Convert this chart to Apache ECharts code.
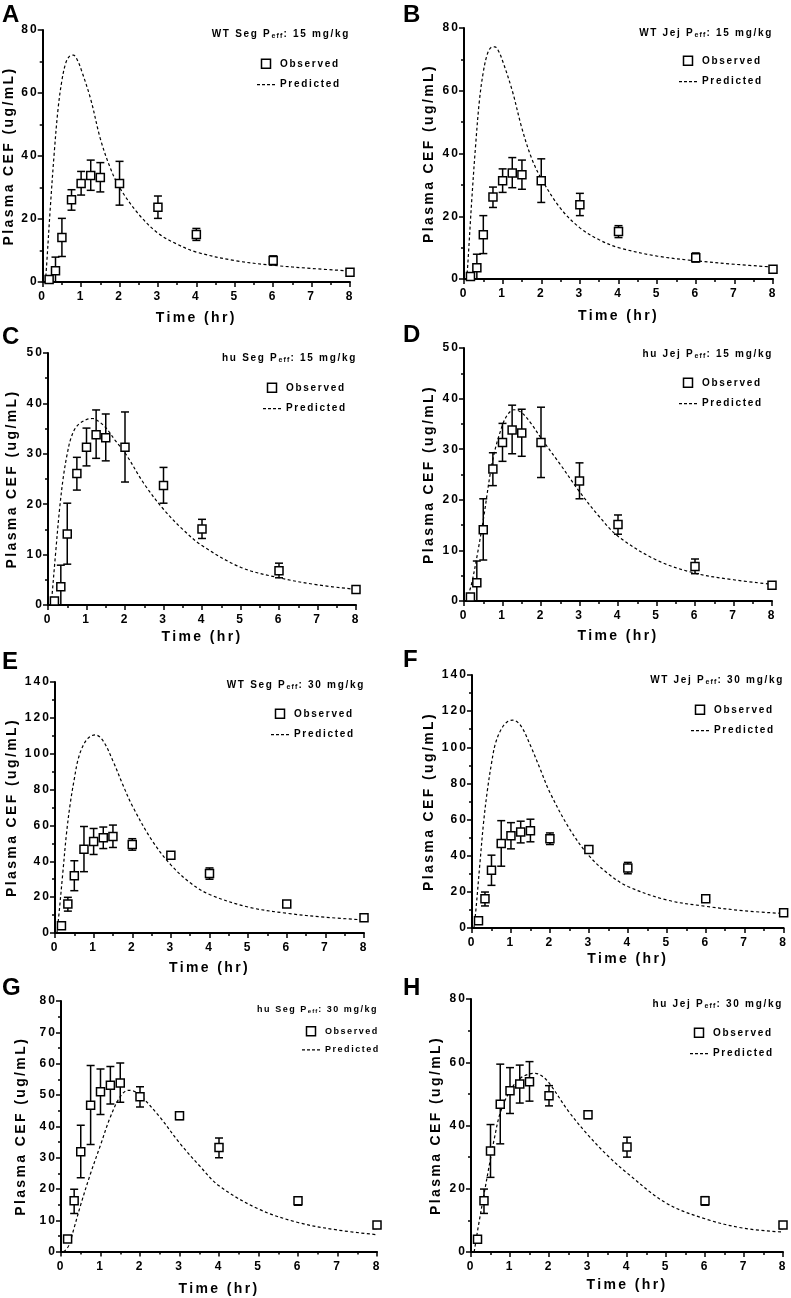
<!DOCTYPE html>
<html><head><meta charset="utf-8">
<script src="https://cdn.jsdelivr.net/npm/echarts@6/dist/echarts.min.js"></script>
<style>html,body{margin:0;padding:0;background:#fff}#c{width:791px;height:1298px}</style>
</head><body><div id="c"></div>
<script>
// ---------------- DATA ----------------
const timeObs   = [0.167, 0.333, 0.5, 0.75, 1, 1.25, 1.5, 2, 3, 4, 6, 8];
const obs15Mean = [0.8, 3.6, 14.1, 26.1, 31.3, 33.8, 33.2, 31.3, 23.7, 15.1, 6.8, 3.1];
const obs15Low  = [0.5, -0.7, 8.1, 22.8, 27.6, 29.1, 28.6, 24.4, 20.2, 13.2, 5.4, 2.8];
const obs15High = [1.1, 7.9, 20.2, 29.3, 35.1, 38.7, 37.9, 38.3, 27.3, 17.0, 8.3, 3.4];
const obs30Mean = [4.0, 16.2, 31.9, 46.7, 51.0, 53.1, 53.8, 49.4, 43.4, 33.2, 16.2, 8.5];
const obs30Low  = [3.6, 12.2, 23.6, 34.2, 43.8, 47.1, 47.7, 46.2, 42.2, 30.0, 14.8, 7.4];
const obs30High = [4.4, 19.9, 40.3, 59.4, 58.3, 59.1, 60.2, 52.6, 44.5, 36.3, 17.5, 9.5];

const predWTSeg15 = [[0.07,0],[0.1,5],[0.2,24],[0.3,41],[0.4,55],[0.5,64],[0.6,69.5],[0.7,71.7],[0.8,72],[0.9,70.5],[1,67.5],[1.25,58],[1.5,45.5],[1.75,36.5],[2,30],[2.5,21.5],[3,15.5],[3.5,12],[4,9.5],[5,6.8],[6,5.3],[7,4.3],[8,3.5]];
const predWTJej15 = [[0.07,0],[0.1,5],[0.2,25],[0.3,42.5],[0.4,57],[0.5,66],[0.6,71.5],[0.7,73.8],[0.8,74],[0.9,72.5],[1,69.5],[1.25,60],[1.5,48],[1.75,38.5],[2,32],[2.5,22.5],[3,16.3],[3.5,12.5],[4,10],[5,7.3],[6,5.8],[7,4.7],[8,3.8]];
const predHuSeg15 = [[0.08,0],[0.1,1.5],[0.2,10.5],[0.3,19],[0.4,25.5],[0.5,30],[0.6,33.2],[0.75,35.5],[1,36.8],[1.15,37],[1.25,36.8],[1.5,35.2],[1.75,32.6],[2,30.2],[2.5,24],[3,19],[3.5,15],[4,11.8],[5,7.5],[6,5.4],[7,4],[8,3.1]];
const predHuJej15 = [[0.08,0],[0.1,0.8],[0.2,3.5],[0.33,8.5],[0.5,16],[0.75,28],[1,34.8],[1.15,37],[1.3,37.8],[1.5,37.2],[1.75,35],[2,32.2],[2.5,27],[3,21.6],[3.5,16.8],[4,12.8],[5,8.1],[6,5.5],[7,4.2],[8,3.3]];
const predWTSeg30 = [[0.05,0],[0.1,10],[0.2,33],[0.3,56],[0.4,73],[0.5,86],[0.6,97],[0.75,105.5],[0.9,109.5],[1.05,110.5],[1.25,107],[1.5,96],[1.75,83],[2,71],[2.5,52],[3,38],[3.5,28],[4,21.5],[5,14.5],[6,11],[7,8.8],[8,7.3]];
const predWTJej30 = [[0.05,0],[0.1,10],[0.2,35],[0.3,59],[0.4,77],[0.5,91],[0.6,102],[0.75,110],[0.9,114],[1.05,115],[1.25,112],[1.5,101],[1.75,88],[2,75],[2.5,55],[3,40],[3.5,30],[4,23],[5,15.5],[6,12],[7,9.5],[8,8]];
const predHuSeg30 = [[0.06,0],[0.1,0.3],[0.2,2],[0.33,7.5],[0.5,15],[0.75,25],[1,34],[1.25,43],[1.5,49.5],[1.7,51.5],[1.85,51.2],[2,50],[2.5,43],[3,34.7],[3.5,27.5],[4,21],[5,13.6],[6,9.3],[7,6.9],[8,5.4]];
const predHuJej30 = [[0.08,0],[0.1,1.5],[0.2,9],[0.33,18],[0.5,29.5],[0.6,36],[0.75,44],[1,51],[1.25,54.8],[1.5,56.3],[1.65,56.5],[1.8,55.8],[2,53.5],[2.5,44.5],[3,37],[3.5,30.5],[4,25],[5,15.5],[6,10.5],[7,7.5],[8,6.3]];

const panelLetters = ['A','B','C','D','E','F','G','H'];
const panelPrefix  = ['WT Seg P','WT Jej P','hu Seg P','hu Jej P','WT Seg P','WT Jej P','hu Seg P','hu Jej P'];
const panelDose    = ['15 mg/kg','15 mg/kg','15 mg/kg','15 mg/kg','30 mg/kg','30 mg/kg','30 mg/kg','30 mg/kg'];
const yMaxList      = [80, 80, 50, 50, 140, 140, 80, 80];
const yIntervalList = [20, 20, 10, 10, 20, 20, 10, 20];
const xTickLabels   = [0,1,2,3,4,5,6,7,8];
const predList = [predWTSeg15, predWTJej15, predHuSeg15, predHuJej15, predWTSeg30, predWTJej30, predHuSeg30, predHuJej30];
const obsSet = [
  {mean: obs15Mean, low: obs15Low, high: obs15High},
  {mean: obs30Mean, low: obs30Low, high: obs30High}
];
const xName = 'Time (hr)';
const yName = 'Plasma CEF (ug/mL)';

// ---------------- LAYOUT ----------------
const W = 791;
const layout = [
  {l:41,  t:30,   w:309, h:252, gy:21, gx:28, tr:350, tt:27,   lgl:257, lgt:58,   ll:2,   lt:3,   tf:10},
  {l:464, t:28,   w:309, h:251, gy:27, gx:29, tr:773, tt:26,   lgl:679, lgt:55,   ll:403, lt:3,   tf:10},
  {l:48,  t:353,  w:308, h:252, gy:28, gx:24, tr:357, tt:351,  lgl:263, lgt:382,  ll:2,   lt:325, tf:10},
  {l:464, t:348,  w:308, h:253, gy:27, gx:27, tr:773, tt:347,  lgl:679, lgt:377,  ll:403, lt:323, tf:10},
  {l:55,  t:682,  w:309, h:251, gy:35, gx:27, tr:365, tt:678,  lgl:271, lgt:708,  ll:2,   lt:650, tf:10},
  {l:472, t:675,  w:312, h:253, gy:35, gx:18, tr:784, tt:673,  lgl:691, lgt:704,  ll:403, lt:648, tf:10},
  {l:61,  t:1001, w:316, h:252, gy:32, gx:29, tr:378, tt:1002, lgl:302, lgt:1026, ll:2,   lt:976, tf:9},
  {l:471, t:999,  w:312, h:253, gy:27, gx:25, tr:783, tt:997,  lgl:690, lgt:1027, ll:403, lt:976, tf:10}
];

// letter spacing to mimic the spaced bold typography
(function(){
  const P = CanvasRenderingContext2D.prototype;
  if (!('letterSpacing' in P)) return;
  const fT = P.fillText, sT = P.strokeText, mT = P.measureText;
  function ls(ctx){
    const m = /(\d+(?:\.\d+)?)px/.exec(ctx.font || '');
    const s = m ? parseFloat(m[1]) : 12;
    const v = (s >= 18 ? 0 : s * 0.17).toFixed(2) + 'px';
    if (ctx.letterSpacing !== v) ctx.letterSpacing = v;
  }
  P.fillText = function(){ ls(this); return fT.apply(this, arguments); };
  P.strokeText = function(){ ls(this); return sT.apply(this, arguments); };
  P.measureText = function(){ ls(this); return mT.apply(this, arguments); };
})();

const FF = '"Liberation Sans", Arial, Helvetica, sans-serif';

function renderErr(params, api){
  const x = api.value(0), lo = api.value(1), hi = api.value(2);
  const pLo = api.coord([x, lo]), pHi = api.coord([x, hi]);
  const w = 4;
  const st = {stroke:'#000', lineWidth:1.5, fill:null};
  return {type:'group', children:[
    {type:'line', shape:{x1:pLo[0], y1:pLo[1], x2:pHi[0], y2:pHi[1]}, style:st},
    {type:'line', shape:{x1:pHi[0]-w, y1:pHi[1], x2:pHi[0]+w, y2:pHi[1]}, style:st},
    {type:'line', shape:{x1:pLo[0]-w, y1:pLo[1], x2:pLo[0]+w, y2:pLo[1]}, style:st}
  ]};
}

const dashIcon = 'path://M0,0H3V1.3H0ZM5,0H8V1.3H5ZM10,0H13V1.3H10ZM15,0H18V1.3H15Z';
const squareIcon = 'path://M0,0H10V10H0Z';

const grids = [], xAxes = [], yAxes = [], series = [], titles = [], legends = [];
for (let i = 0; i < 8; i++) {
  const L = layout[i];
  const obs = obsSet[i < 4 ? 0 : 1];
  grids.push({left:L.l, top:L.t, width:L.w, height:L.h, containLabel:false});
  const axisCommon = {
    axisLine:{show:true, onZero:false, lineStyle:{color:'#000', width:2}},
    axisTick:{show:true, length:5, lineStyle:{color:'#000', width:1.5}},
    minorTick:{show:true, splitNumber:2, length:3, lineStyle:{color:'#000', width:1.5}},
    splitLine:{show:false}, minorSplitLine:{show:false}
  };
  xAxes.push(Object.assign({
    gridIndex:i, type:'value', min:0, max:8, interval:1,
    name:xName, nameLocation:'middle', nameGap:L.gx,
    nameTextStyle:{fontFamily:FF, fontWeight:'bold', fontSize:14, color:'#000'},
    axisLabel:{fontFamily:FF, fontWeight:'bold', fontSize:12, color:'#000', margin:8,
      formatter: v => (xTickLabels.indexOf(v) >= 0 ? String(v) : '')}
  }, axisCommon));
  yAxes.push(Object.assign({
    gridIndex:i, type:'value', min:0, max:yMaxList[i], interval:yIntervalList[i],
    name:yName, nameLocation:'middle', nameGap:L.gy,
    nameTextStyle:{fontFamily:FF, fontWeight:'bold', fontSize:14, color:'#000'},
    axisLabel:{fontFamily:FF, fontWeight:'bold', fontSize:12, color:'#000', margin:4}
  }, axisCommon));

  series.push({
    type:'custom', name:'err'+i, xAxisIndex:i, yAxisIndex:i, clip:true,
    renderItem: renderErr, encode:{x:0, y:[1,2]}, z:2, silent:true,
    data: timeObs.map((t,k) => [t, obs.low[k], obs.high[k]])
  });
  series.push({
    type:'line', name:'Predicted', xAxisIndex:i, yAxisIndex:i,
    data: predList[i], smooth:0.35, showSymbol:false, symbol:'none',
    lineStyle:{color:'#000', width:1.2, type:[3,2.5]}, itemStyle:{color:'#000'}, z:1, silent:true
  });
  series.push({
    type:'scatter', name:'Observed', xAxisIndex:i, yAxisIndex:i,
    data: timeObs.map((t,k) => [t, obs.mean[k]]),
    symbol:'rect', symbolSize:8,
    itemStyle:{color:'#fff', borderColor:'#000', borderWidth:1.5, opacity:1}, z:3, silent:true
  });

  titles.push({
    text: panelLetters[i], left:L.ll, top:L.lt, padding:0,
    textStyle:{fontFamily:FF, fontWeight:'bold', fontSize:24, color:'#000'}
  });
  titles.push({
    text: '{n|' + panelPrefix[i] + '}{s|eff}{n|: ' + panelDose[i] + '}',
    right: W - L.tr, top: L.tt, padding:0,
    textStyle:{
      rich:{
        n:{fontFamily:FF, fontWeight:'bold', fontSize:L.tf, color:'#000', lineHeight:13, verticalAlign:'bottom'},
        s:{fontFamily:FF, fontWeight:'bold', fontSize:L.tf-3, color:'#000', lineHeight:13, verticalAlign:'bottom'}
      }
    }
  });
  legends.push({
    left:L.lgl, top:L.lgt, orient:'vertical', padding:0,
    itemWidth:18, itemHeight:9, itemGap: (i === 6 ? 8 : 9), symbolKeepAspect:true,
    selectedMode:false,
    data:[
      {name:'Observed', icon:squareIcon, itemStyle:{color:'#fff', borderColor:'#000', borderWidth:1.5}},
      {name:'Predicted', icon:dashIcon, itemStyle:{color:'#000', borderWidth:0}}
    ],
    textStyle:{fontFamily:FF, fontWeight:'bold', fontSize:L.tf, color:'#000', lineHeight:10, padding:[0,0,0,0]}
  });
}

const chart = echarts.init(document.getElementById('c'), null, {renderer:'canvas'});
chart.setOption({
  backgroundColor:'#fff',
  animation:false,
  title: titles,
  legend: legends,
  grid: grids,
  xAxis: xAxes,
  yAxis: yAxes,
  series: series
});
</script>
</body></html>
